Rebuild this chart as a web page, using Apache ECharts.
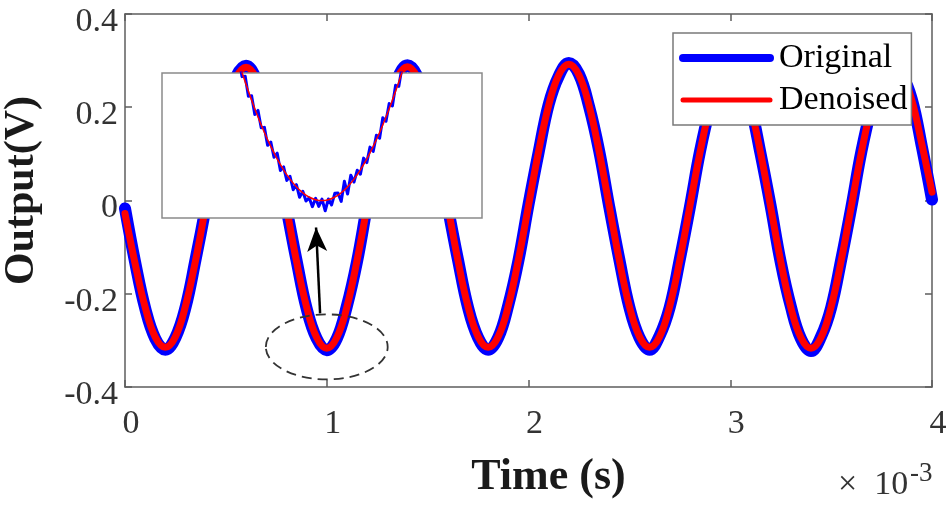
<!DOCTYPE html>
<html>
<head>
<meta charset="utf-8">
<title>Output vs Time</title>
<script src="https://cdn.jsdelivr.net/npm/echarts@6/dist/echarts.min.js"></script>
<style>
html, body { margin: 0; padding: 0; background: #fff; }
#main { width: 948px; height: 507px; }
</style>
</head>
<body>
<div id="main"></div>
<script>
// *******Data*******
// time in ms (axis shows x 10^-3 s)
var timeMain = [0, 0.05, 0.1, 0.15, 0.2, 0.25, 0.3, 0.35, 0.4, 0.45, 0.5, 0.55, 0.6, 0.65, 0.7, 0.75,
    0.8, 0.85, 0.9, 0.95, 1, 1.05, 1.1, 1.15, 1.2, 1.25, 1.3, 1.35, 1.4, 1.45, 1.5, 1.55,
    1.6, 1.65, 1.7, 1.75, 1.8, 1.85, 1.9, 1.95, 2, 2.05, 2.1, 2.15, 2.2, 2.25, 2.3, 2.35,
    2.4, 2.45, 2.5, 2.55, 2.6, 2.65, 2.7, 2.75, 2.8, 2.85, 2.9, 2.95, 3, 3.05, 3.1, 3.15,
    3.2, 3.25, 3.3, 3.35, 3.4, 3.45, 3.5, 3.55, 3.6, 3.65, 3.7, 3.75, 3.8, 3.85, 3.9, 3.95, 4];

var originalMain = [-0.017, -0.132, -0.231, -0.296, -0.320, -0.294, -0.229, -0.126, -0.015, 0.104, 0.197, 0.265, 0.289, 0.261, 0.201, 0.099,
    -0.016, -0.128, -0.231, -0.296, -0.321, -0.296, -0.226, -0.131, -0.011, 0.100, 0.202, 0.262, 0.290, 0.266, 0.198, 0.105,
    -0.014, -0.126, -0.229, -0.294, -0.320, -0.294, -0.224, -0.129, -0.009, 0.103, 0.206, 0.267, 0.295, 0.271, 0.202, 0.107,
    -0.013, -0.126, -0.229, -0.294, -0.320, -0.290, -0.229, -0.126, -0.014, 0.105, 0.199, 0.268, 0.291, 0.264, 0.203, 0.101,
    -0.011, -0.132, -0.227, -0.296, -0.323, -0.292, -0.230, -0.127, -0.015, 0.105, 0.199, 0.268, 0.291, 0.270, 0.217, 0.115, 0.002];

var denoisedMain = [-0.028, -0.135, -0.229, -0.293, -0.315, -0.292, -0.226, -0.128, -0.013, 0.102, 0.199, 0.263, 0.286, 0.263, 0.199, 0.101,
    -0.014, -0.130, -0.228, -0.294, -0.317, -0.294, -0.228, -0.129, -0.013, 0.102, 0.200, 0.264, 0.287, 0.264, 0.200, 0.103,
    -0.012, -0.128, -0.227, -0.292, -0.315, -0.292, -0.226, -0.127, -0.011, 0.105, 0.204, 0.269, 0.292, 0.269, 0.204, 0.105,
    -0.011, -0.128, -0.227, -0.292, -0.315, -0.292, -0.227, -0.128, -0.012, 0.103, 0.201, 0.266, 0.289, 0.266, 0.201, 0.103,
    -0.013, -0.130, -0.229, -0.294, -0.317, -0.294, -0.228, -0.129, -0.013, 0.103, 0.201, 0.266, 0.289, 0.272, 0.215, 0.120, 0.018];

// zoomed view of the trough near t = 1 ms
var timeInset = [0.888, 0.892, 0.896, 0.9, 0.904, 0.908, 0.912, 0.916, 0.92, 0.924, 0.928, 0.932, 0.936, 0.94,
    0.944, 0.948, 0.952, 0.956, 0.96, 0.964, 0.968, 0.972, 0.976, 0.98, 0.984, 0.988, 0.992, 0.996, 1,
    1.004, 1.008, 1.012, 1.016, 1.02, 1.024, 1.028, 1.032, 1.036, 1.04, 1.044, 1.048, 1.052, 1.056,
    1.06, 1.064, 1.068, 1.072, 1.076, 1.08, 1.084, 1.088, 1.092, 1.096, 1.1, 1.104, 1.108, 1.112];

var originalInset = [-0.2015, -0.2157, -0.2162, -0.2295, -0.2292, -0.2430, -0.2427, -0.2556, -0.2528, -0.2648,
    -0.2645, -0.2769, -0.2746, -0.2851, -0.2823, -0.2942, -0.2918, -0.3011, -0.2982, -0.3075,
    -0.3040, -0.3127, -0.3086, -0.3153, -0.3131, -0.3192, -0.3134, -0.3190, -0.3140,
    -0.3220, -0.3139, -0.3180, -0.3100, -0.3098, -0.3156, -0.3017, -0.3105, -0.2975, -0.3022,
    -0.2941, -0.2968, -0.2857, -0.2888, -0.2781, -0.2811, -0.2699, -0.2720, -0.2578, -0.2603,
    -0.2481, -0.2497, -0.2355, -0.2362, -0.2230, -0.2227, -0.2087, -0.2085];

var timeInsetDenoised = [0.888, 0.896, 0.904, 0.912, 0.92, 0.928, 0.936, 0.944, 0.952, 0.96, 0.968, 0.976, 0.984, 0.992, 1,
    1.008, 1.016, 1.024, 1.032, 1.04, 1.048, 1.056, 1.064, 1.072, 1.08, 1.088, 1.096, 1.104, 1.112];

var denoisedInset = [-0.2055, -0.2197, -0.2332, -0.2457, -0.2573, -0.2680, -0.2776, -0.2863, -0.2938, -0.3002,
    -0.3055, -0.3096, -0.3126, -0.3144, -0.3150, -0.3144, -0.3126, -0.3096, -0.3055, -0.3002,
    -0.2938, -0.2863, -0.2776, -0.2680, -0.2573, -0.2457, -0.2332, -0.2197, -0.2055];

var legendNames = ['Original', 'Denoised'];

// annotation anchors, in data units (ms, V)
var arrowFrom = [0.967, -0.242];
var arrowTo = [0.947, -0.058];
var ringCenter = [1.0, -0.314];
var ringRadius = [0.302, 0.0697];

// *******Styles*******
var FONT = '"Liberation Serif", "Times New Roman", serif';
var AXIS_COLOR = '#5e5e5e';
var LABEL_COLOR = '#333333';
var BLUE = '#0000ff';
var RED = '#ff0000';

function pairs(xs, ys) {
    return xs.map(function (x, i) {
        return [x, ys[i]];
    });
}

// box-style axis: line + inward ticks, no labels unless overridden
function frameAxis(extra) {
    var base = {
        type: 'value',
        axisLine: {show: true, onZero: false, lineStyle: {color: AXIS_COLOR, width: 1.5}},
        axisTick: {show: true, inside: true, length: 7, lineStyle: {color: AXIS_COLOR, width: 1.5}},
        axisLabel: {show: false},
        splitLine: {show: false}
    };
    return Object.assign(base, extra);
}

var chart = echarts.init(document.getElementById('main'));

var option = {
    animation: false,
    backgroundColor: '#ffffff',
    grid: [
        {left: 125, right: 16, top: 14, bottom: 120, outerBoundsMode: 'none'},
        {left: 162, top: 73, width: 320, height: 145, show: true, backgroundColor: '#ffffff',
            borderColor: '#8a8a8a', borderWidth: 1.5, z: 10, outerBoundsMode: 'none'}
    ],
    legend: {
        data: [
            {name: legendNames[0], lineStyle: {width: 8, cap: 'round'}, itemStyle: {opacity: 0}},
            {name: legendNames[1], lineStyle: {width: 5, cap: 'round'}, itemStyle: {opacity: 0}}
        ],
        orient: 'vertical',
        left: 673,
        top: 33,
        padding: [8, 4, 8, 6],
        itemGap: 8,
        itemWidth: 87,
        itemHeight: 14,
        backgroundColor: '#ffffff',
        borderColor: '#7a7a7a',
        borderWidth: 1.5,
        borderRadius: 0,
        selectedMode: false,
        z: 20,
        textStyle: {fontFamily: FONT, fontSize: 34, color: '#000', padding: [0, 0, 0, 4]}
    },
    xAxis: [
        frameAxis({
            gridIndex: 0, position: 'bottom', min: 0, max: 4, interval: 1,
            name: 'Time (s)', nameLocation: 'middle', nameGap: 69,
            nameTextStyle: {fontFamily: FONT, fontSize: 44, fontWeight: 'bold', color: '#1a1a1a', padding: [0, 0, 0, 40]},
            axisLabel: {show: true, fontFamily: FONT, fontSize: 34, color: LABEL_COLOR, margin: 20, padding: [0, 0, 0, 12]}
        }),
        frameAxis({gridIndex: 0, position: 'top', min: 0, max: 4, interval: 1}),
        {type: 'value', gridIndex: 1, min: 0.8, max: 1.2, show: false}
    ],
    yAxis: [
        frameAxis({
            gridIndex: 0, position: 'left', min: -0.4, max: 0.4, interval: 0.2,
            name: 'Output(V)', nameLocation: 'middle', nameGap: 82,
            nameTextStyle: {fontFamily: FONT, fontSize: 42, fontWeight: 'bold', color: '#1a1a1a', padding: [0, 0, 0, 20]},
            axisLabel: {show: true, fontFamily: FONT, fontSize: 34, color: LABEL_COLOR, margin: 7,
                verticalAlign: 'top', lineHeight: 16}
        }),
        frameAxis({gridIndex: 0, position: 'right', min: -0.4, max: 0.4, interval: 0.2}),
        {type: 'value', gridIndex: 1, min: -0.327, max: -0.227, show: false}
    ],
    series: [
        {
            name: legendNames[0], type: 'line', xAxisIndex: 0, yAxisIndex: 0,
            data: pairs(timeMain, originalMain), smooth: 0.4, symbol: 'none', z: 2,
            lineStyle: {color: BLUE, width: 12, cap: 'round', join: 'round'},
            itemStyle: {color: BLUE}
        },
        {
            name: legendNames[1], type: 'line', xAxisIndex: 0, yAxisIndex: 0,
            data: pairs(timeMain, denoisedMain), smooth: 0.4, symbol: 'none', z: 3,
            lineStyle: {color: RED, width: 7, cap: 'round', join: 'round'},
            itemStyle: {color: RED},
            markLine: {
                silent: true,
                symbol: ['none', 'arrow'],
                symbolSize: [15, 24],
                label: {show: false},
                lineStyle: {color: '#000', width: 2.5, type: 'solid'},
                data: [[{coord: arrowFrom}, {coord: arrowTo}]]
            }
        },
        {
            name: 'Original (zoom)', type: 'line', xAxisIndex: 2, yAxisIndex: 2,
            data: pairs(timeInset, originalInset), symbol: 'none', z: 11,
            lineStyle: {color: BLUE, width: 3, join: 'round'},
            itemStyle: {color: BLUE}
        },
        {
            name: 'Denoised (zoom)', type: 'line', xAxisIndex: 2, yAxisIndex: 2,
            data: pairs(timeInsetDenoised, denoisedInset), smooth: true, symbol: 'none', z: 12,
            lineStyle: {color: RED, width: 1.5},
            itemStyle: {color: RED}
        }
    ],
    graphic: [
        {
            id: 'expoBase', type: 'text', left: 838, top: 468, z: 30, silent: true,
            style: {text: '\u00d7  10', fontFamily: FONT, fontSize: 34, lineHeight: 34, fill: LABEL_COLOR}
        },
        {
            id: 'expoPower', type: 'text', left: 910, top: 460, z: 30, silent: true,
            style: {text: '-3', fontFamily: FONT, fontSize: 27, lineHeight: 27, fill: LABEL_COLOR}
        }
    ]
};

chart.setOption(option);

// dashed ring round the zoomed trough, placed through the grid's scales
function drawRing() {
    var c = chart.convertToPixel({gridIndex: 0}, ringCenter);
    var e = chart.convertToPixel({gridIndex: 0}, [ringCenter[0] + ringRadius[0], ringCenter[1] - ringRadius[1]]);
    chart.setOption({
        graphic: [{
            id: 'ring', type: 'ellipse', z: 5, silent: true,
            shape: {cx: c[0], cy: c[1], rx: e[0] - c[0], ry: e[1] - c[1]},
            style: {fill: 'none', stroke: '#333', lineWidth: 1.8, lineDash: [10, 6]}
        }]
    });
}
drawRing();
</script>
</body>
</html>
